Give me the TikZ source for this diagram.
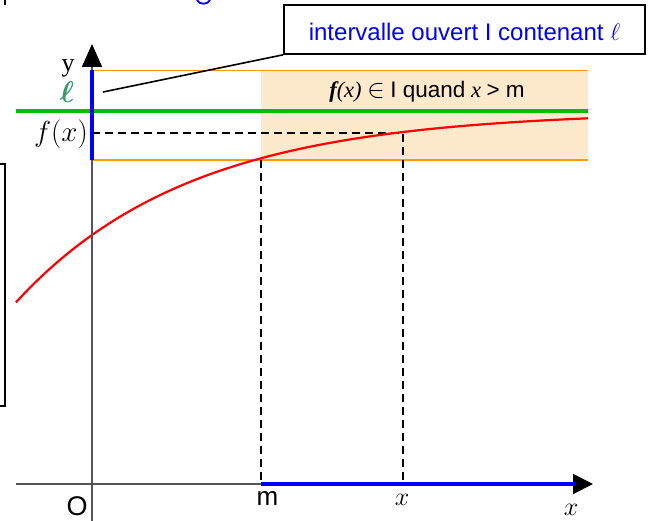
\RequirePackage{fix-cm}
\documentclass[tikz,border=0pt]{standalone}
\usepackage{amsmath}
\usepackage{fontspec}
\setmainfont{Liberation Serif}
\newfontfamily\sansf{Liberation Sans}
\usetikzlibrary{arrows.meta}
\definecolor{axgray}{HTML}{555555}
\definecolor{orangeline}{HTML}{FF9900}
\definecolor{bandfill}{HTML}{FDE9CC}
\definecolor{limgreen}{HTML}{00C000}
\definecolor{ellgreen}{HTML}{3A9A6A}
\tikzset{
  axis/.style={draw=axgray, line width=2pt},
  bluebar/.style={draw=blue, line width=4pt},
  guide/.style={draw=black, line width=1.4pt, dash pattern=on 8pt off 5pt},
  lbl/.style={inner sep=0pt, anchor=base},
}
\begin{document}
\begin{tikzpicture}[x=1pt,y=-1pt]
\useasboundingbox (0,0) rectangle (653,521);
% named points
\coordinate (O) at (92,484);
\coordinate (xend) at (593,484);
\coordinate (xstart) at (16,484);
\coordinate (ytop) at (92,44);
\coordinate (ybot) at (92,525);
\coordinate (M) at (261,484);
\coordinate (X) at (403,484);
\coordinate (Mc) at (261,160);
\coordinate (Xc) at (403,133);
\coordinate (Yfx) at (92,133);
\coordinate (Itop) at (92,71);
\coordinate (Ibot) at (92,160);
\coordinate (Itopr) at (588,71);
\coordinate (Ibotr) at (588,160);
\coordinate (Ltl) at (16,111);
\coordinate (Lr) at (588,111);
\coordinate (lineA) at (103,92);
% band
\fill[bandfill] (261,71) rectangle (588,160);
\draw[orangeline, line width=1pt] (Itop) -- (Itopr);
\draw[orangeline, line width=2pt] (Ibot) -- (Ibotr);
% limit
\draw[limgreen, line width=3.5pt] (Ltl) -- (Lr);
% guides
\draw[guide] (Yfx) -- (Xc) -- (X);
\draw[guide] (Mc) -- (M);
% curve
\draw[red, line width=2.2pt] plot[domain=16:588, samples=120] (\x, {111+124*exp(-0.0057*(\x-92))});
% axes
\draw[axis, -{Triangle[length=20pt,width=20pt,color=black]}] (xstart) -- (xend);
\draw[axis, -{Triangle[length=23pt,width=20pt,color=black]}] (ybot) -- (ytop);
\draw[bluebar] (M) -- (575,484);
\draw[bluebar] (92,70) -- (92,160);
% callout
\node[draw=black, line width=1.6pt, fill=white, minimum width=361pt, minimum height=49pt,
      text height=23pt, text depth=0pt, inner sep=0pt, text=blue, font=\sansf\fontsize{24}{28}\selectfont]
      (box) at (464.5,29.5) {intervalle ouvert I contenant $\ell$};
\draw[black, line width=1.6pt] (lineA) -- (box.south west);
% labels
\node[lbl, font=\fontsize{22.5}{26}\selectfont] (cond) at (427,98)
  {{\bfseries\itshape f}{\itshape (x)} {\fontsize{26}{30}\selectfont$\in$} {\sansf I quand} {\itshape x} {\sansf > m}};
\node[lbl, font=\fontsize{26}{30}\selectfont] (ylab) at (68,72) {y};
\node[lbl, text=ellgreen, font=\fontsize{30}{34}\selectfont] (ell) at (67,103) {$\boldsymbol{\ell}$};
\node[lbl, font=\fontsize{29}{33}\selectfont] (fx) at (61,142) {$f(x)$};
\node[lbl, font=\sansf\fontsize{27}{31}\selectfont] (olab) at (77,515) {O};
\node[lbl, font=\sansf\fontsize{26}{30}\selectfont] (mlab) at (267.5,505) {m};
\node[lbl, font=\fontsize{26}{30}\selectfont] (xlab) at (402,505) {$x$};
\node[lbl, font=\fontsize{26}{30}\selectfont] (xaxlab) at (571,515.5) {$x$};
% fragments at the edges
\draw[line width=1.5pt] (0,164) -- (5,164) -- (5,406) -- (0,406);
\fill[black] (4,0) rectangle (6,5);
\draw[blue, line width=1.8pt] (197,0) .. controls (199,5) and (208,5) .. (210,0);
\end{tikzpicture}
\end{document}
